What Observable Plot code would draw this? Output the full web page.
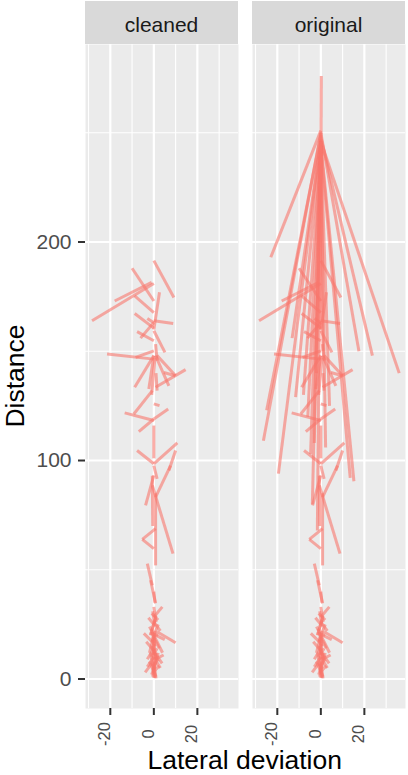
<!DOCTYPE html>
<html>
<head>
<meta charset="utf-8">
<script src="https://cdn.jsdelivr.net/npm/d3@7"></script>
<script src="https://cdn.jsdelivr.net/npm/@observablehq/plot@0.6"></script>
<style>
  html, body { margin: 0; padding: 0; background: white; }
  svg { display: block; }
</style>
</head>
<body>
<div id="chart"></div>
<script>
// ---- data ----
const panels = ["cleaned", "original"];
const xTicks = [-20, 0, 20];
const xMinor = [-30, -10, 10, 30];
const yTicks = [0, 100, 200];
const yMinor = [50, 150, 250];
const xTitle = "Lateral deviation";
const yTitle = "Distance";

// segments kept after cleaning: [lateral start, distance start, lateral end, distance end]
const cleanedSegments = [
  [-10, 188, 0, 173],
  [0, 191.5, 9.2, 174.6],
  [-28.4, 164, 0, 181],
  [-18, 173, -1, 181.5],
  [-8.8, 175.3, 0, 167.7],
  [2.6, 177, 0, 160],
  [0, 164, 8.9, 162.7],
  [-8.8, 167.3, 0, 160.6],
  [-3, 165, 0, 163],
  [0, 163.2, -6.1, 156],
  [-7.7, 159, 0, 154.8],
  [0, 159.4, 5.1, 149.5],
  [-21.5, 148.7, 0, 146.4],
  [-8.4, 147.2, 0, 150.2],
  [0.8, 153.3, 1.5, 145.7],
  [0, 148, -8.8, 133.5],
  [0, 148, -2.3, 132.7],
  [0.8, 148, 6.9, 134.2],
  [1.5, 148, 10, 138.8],
  [14.6, 141.6, 0.8, 133.5],
  [9.9, 138.8, 4.6, 140.3],
  [0.5, 147, -1, 130],
  [1, 140, 1.5, 132],
  [-0.7, 132, -9.2, 121.3],
  [-13.4, 121.8, 0, 118.3],
  [0, 119, -6.9, 113.2],
  [0, 119, 6.6, 123.6],
  [0, 125.9, 2.6, 125.1],
  [0, 116, 0, 101],
  [-7.7, 104.6, 0, 98.5],
  [0, 98.5, 10.8, 108.1],
  [10, 104.6, 6.9, 95.4],
  [0, 97.7, 1.5, 91.6],
  [7.7, 97.7, 0.8, 83.2],
  [0, 93.2, -3.8, 79.5],
  [-0.7, 88.6, 8.8, 57.4],
  [-0.7, 93, -0.5, 70],
  [0.8, 85, 0.8, 52],
  [0.8, 68.8, -5.3, 63.9],
  [-5.3, 63.9, 0, 59.7],
  [-3, 52.8, -0.7, 42.9],
  [-1.5, 45.2, 0.8, 34.6],
  [0, 40, 0.5, 35],
  [3.9, 33, 0, 28.4],
  [1.5, 21.6, 10, 16.6],
  [0, 33, 1, 26],
  [-1, 30, 2, 27],
  [1, 29, -1, 22],
  [0, 26, 3, 22],
  [-2, 24, 1, 18],
  [2, 25, -1, 17],
  [-4.6, 20.9, 0, 16.3],
  [0, 20, -2, 12],
  [1, 18, 4, 12],
  [-1, 15, 2, 8],
  [0, 14, -3, 9],
  [2, 12, 0, 4],
  [0, 10, 3, 5],
  [-2, 8, 1, 1],
  [0, 6, 0.5, 0.5],
  [1, 8, -1, 2],
  [3.8, 7.2, 0, 12.5],
  [-3, 5.6, 0, 10.2],
  [0, 0.5, 0, 8],
  [-0.5, 31, 0.5, 24],
  [0.5, 27, -1.5, 20],
  [-1, 23, 0.5, 15],
  [0, 19, 2.5, 14],
  [-3.5, 17, 0, 13],
  [0, 16, -0.5, 6],
  [1.5, 14, -1, 10],
  [4.5, 11, 0.5, 9],
  [-1.5, 12, 0, 3],
  [2.5, 6, -0.5, 3],
  [-4, 3, -1, 7],
  [0.5, 4, 1, 0.3],
  [5, 18, 1, 20],
  [-2.5, 28, 0, 25],
  [0.5, 22, 0, 11],
  [-0.5, 18, 1, 9],
  [1, 12, -0.5, 1],
  [-2, 21, 2, 20]
];

// extra segments only present in the original data
const removedSegments = [
  [0.2, 276, -0.3, 160],
  [0, 251, -23, 193],
  [0, 250, -26.4, 109],
  [0, 249, -24.9, 123],
  [0, 247, -19.5, 94],
  [0, 246, -13.2, 156],
  [0, 245, -11.6, 129],
  [0, 250, 17.5, 150],
  [0, 248, 23.7, 148],
  [0, 246, 36, 140],
  [0, 245, 15.2, 90.5],
  [0, 244, 13.5, 92],
  [0, 247, -3, 108],
  [0, 246, -4.7, 103],
  [0, 244, 2.2, 106],
  [0, 245, -6, 120],
  [0, 243, -2, 140],
  [0, 245, 4, 125],
  [0, 242, -8, 130],
  [0, 240, 1, 150],
  [0, 246, -3.9, 80],
  [0, 244, -1.6, 68]
];

const toRows = (segs, panel) => segs.map(([x1, y1, x2, y2]) => ({panel, x1, y1, x2, y2}));
const rows = [
  ...toRows(cleanedSegments, "cleaned"),
  ...toRows(cleanedSegments.concat(removedSegments), "original")
];

const FONT = "'Liberation Sans', Arial, Helvetica, sans-serif";

const W = 408, H = 775, mT = 44, mB = 67, mL = 84.5, mR = 2;

const chart = Plot.plot({
  width: W,
  height: H,
  marginTop: mT,
  marginBottom: mB,
  marginLeft: mL,
  marginRight: mR,
  style: {fontFamily: FONT, background: "white", overflow: "visible"},
  x: {domain: [-31.4, 38.9], axis: null},
  y: {domain: [-13.5, 290.4], axis: null},
  fx: {domain: panels, paddingInner: 0.085, paddingOuter: 0, axis: null},
  marks: [
    Plot.frame({fill: "#EBEBEB", stroke: "none"}),
    Plot.gridX(xMinor, {stroke: "white", strokeOpacity: 1, strokeWidth: 1.1}),
    Plot.gridY(yMinor, {stroke: "white", strokeOpacity: 1, strokeWidth: 1.1}),
    Plot.gridX(xTicks, {stroke: "white", strokeOpacity: 1, strokeWidth: 2.2}),
    Plot.gridY(yTicks, {stroke: "white", strokeOpacity: 1, strokeWidth: 2.2}),
    Plot.link(rows, {
      x1: "x1", y1: "y1", x2: "x2", y2: "y2", fx: "panel",
      stroke: "#F8766D", strokeOpacity: 0.6, strokeWidth: 3, strokeLinecap: "butt"
    }),
    Plot.axisY(yTicks, {
      tickSize: 7, tickPadding: 6, label: null,
      stroke: "#333333", strokeWidth: 2, tickFormat: () => ""
    }),
    Plot.text(yTicks, {
      y: d => d, fx: yTicks.map(() => panels[0]), text: d => String(d),
      frameAnchor: "left", dx: -14, textAnchor: "end",
      fontSize: 21, fill: "#4D4D4D"
    }),
    Plot.axisX(xTicks, {
      tickSize: 7, label: null, stroke: "#333333", strokeWidth: 2, tickFormat: () => ""
    }),
    Plot.text(xTicks, {
      x: d => d, text: d => d < 0 ? "-" + Math.abs(d) : String(d),
      frameAnchor: "bottom", dy: 25.5, rotate: -90,
      textAnchor: "middle", fontSize: 16.5, fill: "#4D4D4D"
    })
  ]
});

document.getElementById("chart").appendChild(chart);

// strips and axis titles, positioned from the plot's own scales
const svg = d3.select(chart);
const fx = chart.scale("fx");
const yS = chart.scale("y");
const bw = fx.bandwidth;
let right = mL;
for (const p of panels) {
  const x0 = fx.apply(p);
  right = Math.max(right, x0 + bw);
  svg.append("rect")
    .attr("x", x0).attr("y", 1).attr("width", bw).attr("height", mT - 1)
    .attr("fill", "#D9D9D9");
  svg.append("text")
    .attr("x", x0 + bw / 2).attr("y", 31.5)
    .attr("text-anchor", "middle")
    .attr("font-family", FONT).attr("font-size", 21)
    .attr("fill", "#1A1A1A")
    .text(p);
}
const [ra, rb] = yS.range;
svg.append("text")
  .attr("transform", `translate(24,${(ra + rb) / 2}) rotate(-90)`)
  .attr("text-anchor", "middle")
  .attr("font-family", FONT).attr("font-size", 26.5)
  .attr("fill", "black")
  .text(yTitle);
svg.append("text")
  .attr("x", (mL + right) / 2).attr("y", 769)
  .attr("text-anchor", "middle")
  .attr("font-family", FONT).attr("font-size", 26.5)
  .attr("fill", "black")
  .text(xTitle);
</script>
</body>
</html>
